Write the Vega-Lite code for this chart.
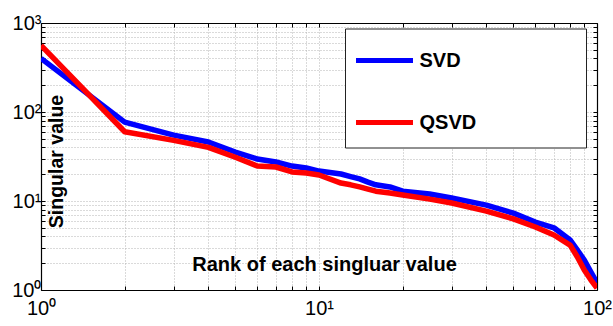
{
  "$schema": "https://vega.github.io/schema/vega-lite/v6.json",
  "width": 556,
  "height": 267,
  "autosize": {"type": "none"},
  "padding": {"left": 41, "top": 23, "right": 16, "bottom": 36},
  "background": "white",
  "config": {
    "view": {"stroke": null},
    "font": "Liberation Sans",
    "axis": {"domainColor": "black", "domainWidth": 1.2, "tickColor": "black", "tickSize": -4, "tickWidth": 1,
             "gridColor": "#b4b4b4", "gridDash": [1, 2], "gridWidth": 1, "labelColor": "black", "titleColor": "black"}
  },
  "data": {"values": [
    {"rank": 1, "value": 400, "method": "SVD"},
    {"rank": 2, "value": 77, "method": "SVD"},
    {"rank": 3, "value": 55, "method": "SVD"},
    {"rank": 4, "value": 46, "method": "SVD"},
    {"rank": 5, "value": 35.5, "method": "SVD"},
    {"rank": 6, "value": 29.6, "method": "SVD"},
    {"rank": 7, "value": 27.4, "method": "SVD"},
    {"rank": 8, "value": 24.7, "method": "SVD"},
    {"rank": 9, "value": 23.5, "method": "SVD"},
    {"rank": 10, "value": 21.7, "method": "SVD"},
    {"rank": 12, "value": 20.1, "method": "SVD"},
    {"rank": 13, "value": 18.8, "method": "SVD"},
    {"rank": 14, "value": 17.7, "method": "SVD"},
    {"rank": 15, "value": 16.3, "method": "SVD"},
    {"rank": 16, "value": 15.2, "method": "SVD"},
    {"rank": 18, "value": 14.4, "method": "SVD"},
    {"rank": 20, "value": 12.9, "method": "SVD"},
    {"rank": 25, "value": 12.0, "method": "SVD"},
    {"rank": 30, "value": 10.8, "method": "SVD"},
    {"rank": 40, "value": 9.0, "method": "SVD"},
    {"rank": 50, "value": 7.3, "method": "SVD"},
    {"rank": 60, "value": 5.8, "method": "SVD"},
    {"rank": 70, "value": 5.0, "method": "SVD"},
    {"rank": 80, "value": 3.65, "method": "SVD"},
    {"rank": 85, "value": 2.8, "method": "SVD"},
    {"rank": 90, "value": 2.17, "method": "SVD"},
    {"rank": 95, "value": 1.6, "method": "SVD"},
    {"rank": 100, "value": 1.2, "method": "SVD"},
    {"rank": 1, "value": 560, "method": "QSVD"},
    {"rank": 2, "value": 60, "method": "QSVD"},
    {"rank": 3, "value": 48, "method": "QSVD"},
    {"rank": 4, "value": 40, "method": "QSVD"},
    {"rank": 5, "value": 31, "method": "QSVD"},
    {"rank": 6, "value": 24.7, "method": "QSVD"},
    {"rank": 7, "value": 24.1, "method": "QSVD"},
    {"rank": 8, "value": 21.2, "method": "QSVD"},
    {"rank": 9, "value": 20.6, "method": "QSVD"},
    {"rank": 10, "value": 19.6, "method": "QSVD"},
    {"rank": 12, "value": 15.9, "method": "QSVD"},
    {"rank": 13, "value": 15.2, "method": "QSVD"},
    {"rank": 14, "value": 14.4, "method": "QSVD"},
    {"rank": 15, "value": 13.6, "method": "QSVD"},
    {"rank": 16, "value": 12.9, "method": "QSVD"},
    {"rank": 18, "value": 12.3, "method": "QSVD"},
    {"rank": 20, "value": 11.7, "method": "QSVD"},
    {"rank": 25, "value": 10.5, "method": "QSVD"},
    {"rank": 30, "value": 9.5, "method": "QSVD"},
    {"rank": 40, "value": 7.7, "method": "QSVD"},
    {"rank": 50, "value": 6.3, "method": "QSVD"},
    {"rank": 60, "value": 5.1, "method": "QSVD"},
    {"rank": 70, "value": 4.15, "method": "QSVD"},
    {"rank": 80, "value": 3.2, "method": "QSVD"},
    {"rank": 85, "value": 2.35, "method": "QSVD"},
    {"rank": 90, "value": 1.68, "method": "QSVD"},
    {"rank": 95, "value": 1.3, "method": "QSVD"},
    {"rank": 100, "value": 1.05, "method": "QSVD"}
  ]},
  "resolve": {"axis": {"x": "independent", "y": "independent"}},
  "layer": [
    {
      "mark": {"type": "line", "strokeWidth": 5.5, "clip": true, "strokeJoin": "round"},
      "encoding": {
        "x": {"field": "rank", "type": "quantitative",
              "scale": {"type": "log", "domain": [1, 100], "nice": false},
              "axis": {"orient": "bottom", "values": [1,2,3,4,5,6,7,8,9,10,20,30,40,50,60,70,80,90,100],
                       "labelExpr": "datum.value == 1 ? '10⁰' : datum.value == 10 ? '10¹' : datum.value == 100 ? '10²' : ''",
                       "labelOverlap": false, "labelFlush": false, "labelFontSize": 20, "labelPadding": 12, "labelBaseline": "top",
                       "title": "Rank of each singluar value", "titleFontSize": 20, "titleFontWeight": "bold",
                       "titleBaseline": "alphabetic", "titleX": 283, "titleY": -20, "titleAnchor": null, "titleAlign": "center"}},
        "y": {"field": "value", "type": "quantitative",
              "scale": {"type": "log", "domain": [1, 1000], "nice": false},
              "axis": {"orient": "left", "values": [1,2,3,4,5,6,7,8,9,10,20,30,40,50,60,70,80,90,100,200,300,400,500,600,700,800,900,1000],
                       "labelExpr": "datum.value == 1 ? '10⁰' : datum.value == 10 ? '10¹' : datum.value == 100 ? '10²' : datum.value == 1000 ? '10³' : ''",
                       "labelOverlap": false, "labelFontSize": 20, "labelPadding": 4, "labelBaseline": "middle",
                       "title": "Singular value", "titleFontSize": 19.5, "titleFontWeight": "bold", "titleAngle": -90,
                       "titleBaseline": "alphabetic", "titleX": 21, "titleY": 138, "titleAnchor": null, "titleAlign": "center"}},
        "color": {"field": "method", "type": "nominal",
                  "scale": {"domain": ["SVD", "QSVD"], "range": ["#0000ff", "#ff0000"]},
                  "legend": {"title": null,
                             "orient": "none", "legendX": 304, "legendY": 5.5,
                             "symbolType": "M-2,0H2", "symbolSize": 812, "symbolStrokeWidth": 5, "symbolOffset": 7.5,
                             "labelFontSize": 20, "labelFontWeight": "bold", "labelLimit": 400, "labelOffset": 18,
                             "labelExpr": "datum.label + '\u00a0\u00a0\u00a0\u00a0\u00a0\u00a0\u00a0\u00a0\u00a0\u00a0\u00a0\u00a0\u00a0\u00a0\u00a0\u00a0\u00a0\u200b'",
                             "padding": 15, "rowPadding": 35,
                             "strokeColor": "#222222", "fillColor": "white"}}
      }
    },
    {
      "mark": {"type": "line", "strokeOpacity": 0},
      "encoding": {
        "x": {"field": "rank", "type": "quantitative",
              "axis": {"orient": "top", "values": [1,2,3,4,5,6,7,8,9,10,20,30,40,50,60,70,80,90,100], "labels": false, "grid": false, "title": null}},
        "y": {"field": "value", "type": "quantitative",
              "axis": {"orient": "right", "values": [1,2,3,4,5,6,7,8,9,10,20,30,40,50,60,70,80,90,100,200,300,400,500,600,700,800,900,1000], "labels": false, "grid": false, "title": null}},
        "detail": {"field": "method"}
      }
    }
  ]
}
